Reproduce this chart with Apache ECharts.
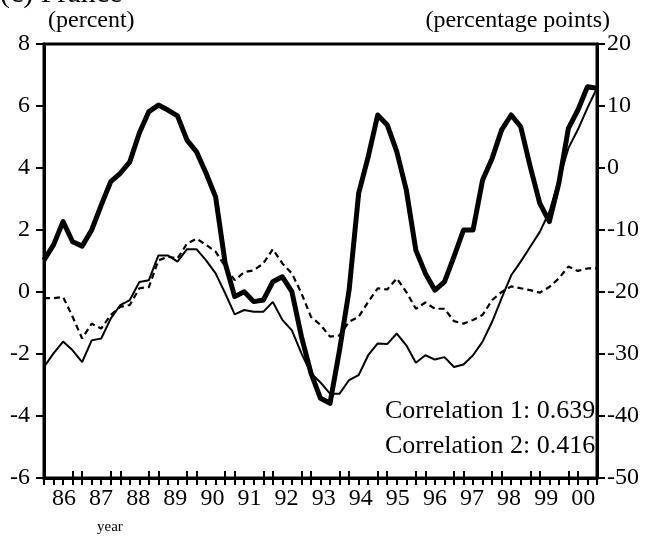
<!DOCTYPE html>
<html>
<head>
<meta charset="utf-8">
<script src="https://cdn.jsdelivr.net/npm/echarts@6/dist/echarts.min.js"></script>
<style>
  html, body { margin: 0; padding: 0; background: #fff; }
  #chart { width: 649px; height: 536px; }
</style>
</head>
<body>
<div id="chart"></div>
<script>
// Quarterly observations, 59 quarters
// Thick line, left axis (percent)
const seriesPercent = [
  1.03, 1.52, 2.27, 1.62, 1.48, 2.0, 2.8, 3.56, 3.83, 4.2,
  5.13, 5.82, 6.03, 5.87, 5.68, 4.9, 4.52, 3.83, 3.07, 0.93,
  -0.15, 0.01, -0.31, -0.26, 0.33, 0.49, 0.01, -1.44, -2.62, -3.43,
  -3.59, -1.87, 0.06, 3.18, 4.36, 5.71, 5.39, 4.53, 3.29, 1.35,
  0.6, 0.06, 0.33, 1.14, 2.0, 2.0, 3.61, 4.31, 5.23, 5.71,
  5.33, 4.04, 2.86, 2.27, 3.51, 5.28, 5.87, 6.62, 6.57
];
// Thin solid line, right axis (percentage points)
const seriesPoints1 = [
  -32.1, -29.9, -28.0, -29.4, -31.3, -27.8, -27.5, -24.3, -22.1, -21.3,
  -18.4, -18.1, -14.1, -14.1, -15.1, -13.1, -13.1, -14.9, -17.0, -20.2,
  -23.6, -22.9, -23.2, -23.2, -21.6, -24.5, -26.2, -29.9, -33.1, -34.6,
  -36.4, -36.4, -34.2, -33.4, -30.2, -28.3, -28.4, -26.7, -28.6, -31.4,
  -30.2, -30.9, -30.5, -32.1, -31.7, -30.2, -28.0, -24.8, -21.0, -17.3,
  -15.1, -12.7, -10.3, -7.1, -2.0, 3.2, 6.2, 9.7, 12.9
];
// Dashed line, right axis (percentage points)
const seriesPoints2 = [
  -21.0, -21.0, -20.8, -24.0, -27.5, -25.1, -25.9, -23.7, -22.4, -22.1,
  -19.4, -19.2, -14.9, -14.3, -14.6, -12.2, -11.4, -12.4, -13.5, -15.9,
  -18.1, -16.8, -16.5, -15.4, -13.1, -15.4, -17.0, -20.2, -24.0, -25.3,
  -27.2, -27.0, -24.8, -24.0, -21.6, -19.4, -19.6, -17.8, -20.0, -22.7,
  -21.7, -22.7, -22.7, -24.7, -25.1, -24.5, -23.7, -21.3, -20.0, -19.1,
  -19.4, -19.7, -20.1, -19.2, -17.8, -15.9, -16.6, -16.2, -16.2
];
const yearLabels = ['86','87','88','89','90','91','92','93','94','95','96','97','98','99','00'];
const correlations = ['Correlation 1: 0.639', 'Correlation 2: 0.416'];

const FONT = 'Liberation Serif';
const nQ = seriesPercent.length;           // quarters on the axis
const labelStart = 2.1, labelStep = 3.89;  // year label placement, in quarters
const labelPos = yearLabels.map((_, k) => +(labelStart + k * labelStep).toFixed(3));
const bigTicks = [];
for (let q = 3; q < nQ - 1; q += 4) { bigTicks.push(q, q + 1); }

const toPairs = arr => arr.map((v, i) => [i, v]);

const chart = echarts.init(document.getElementById('chart'), null, { renderer: 'canvas' });
const axisTextStyle = { color: '#000', fontFamily: FONT, fontSize: 24 };

chart.setOption({
  animation: false,
  backgroundColor: '#fff',
  grid: { left: 44, right: 52, top: 44, bottom: 58, show: true, borderColor: '#000', borderWidth: 3, backgroundColor: 'transparent' },
  xAxis: [
    {
      type: 'value', min: 0, max: nQ - 1, interval: 1, position: 'bottom',
      axisLine: { show: true, onZero: false, lineStyle: { color: '#000', width: 3 } },
      axisTick: { show: true, length: 7, lineStyle: { color: '#000', width: 2 } },
      axisLabel: {
        show: true, customValues: labelPos, margin: 9, ...axisTextStyle,
        formatter: v => { const k = labelPos.indexOf(v); return k >= 0 ? yearLabels[k] : ''; }
      },
      splitLine: { show: false }
    },
    {
      type: 'value', min: 0, max: nQ - 1, position: 'bottom', offset: 0,
      axisLine: { show: false, onZero: false },
      axisTick: { show: true, inside: true, length: 7, customValues: bigTicks, lineStyle: { color: '#000', width: 2 } },
      axisLabel: { show: false },
      splitLine: { show: false }
    }
  ],
  yAxis: [
    {
      type: 'value', min: -6, max: 8, interval: 2, position: 'left',
      axisLine: { show: true, onZero: false, lineStyle: { color: '#000', width: 3 } },
      axisTick: { show: true, length: 8, lineStyle: { color: '#000', width: 2 } },
      axisLabel: { margin: 14, ...axisTextStyle },
      splitLine: { show: false }
    },
    {
      type: 'value', min: -50, max: 20, interval: 10, position: 'right',
      axisLine: { show: true, onZero: false, lineStyle: { color: '#000', width: 3 } },
      axisTick: { show: true, length: 8, lineStyle: { color: '#000', width: 2 } },
      axisLabel: { margin: 10, ...axisTextStyle },
      splitLine: { show: false }
    }
  ],
  series: [
    {
      name: 'points 2', type: 'line', yAxisIndex: 1, data: toPairs(seriesPoints2),
      showSymbol: false, symbol: 'none',
      lineStyle: { color: '#000', width: 2.2, type: [6, 4] }, z: 3
    },
    {
      name: 'points 1', type: 'line', yAxisIndex: 1, data: toPairs(seriesPoints1),
      showSymbol: false, symbol: 'none',
      lineStyle: { color: '#000', width: 2 }, z: 4
    },
    {
      name: 'percent', type: 'line', yAxisIndex: 0, data: toPairs(seriesPercent),
      showSymbol: false, symbol: 'none',
      lineStyle: { color: '#000', width: 5, join: 'round' }, z: 5
    }
  ],
  graphic: [
    { type: 'text', left: 0, top: -21, style: { text: '(c) France', fill: '#000', font: '30px "Liberation Serif"' } },
    { type: 'text', left: 48, top: 9, style: { text: '(percent)', fill: '#000', font: '24px "Liberation Serif"' } },
    { type: 'text', right: 39, top: 9, style: { text: '(percentage points)', fill: '#000', font: '24px "Liberation Serif"' } },
    { type: 'text', left: 385, top: 398, style: { text: correlations[0], fill: '#000', font: '26px "Liberation Serif"' } },
    { type: 'text', left: 385, top: 433, style: { text: correlations[1], fill: '#000', font: '26px "Liberation Serif"' } },
    { type: 'text', left: 97, top: 520, style: { text: 'year', fill: '#000', font: '15px "Liberation Serif"' } }
  ]
});
</script>
</body>
</html>
